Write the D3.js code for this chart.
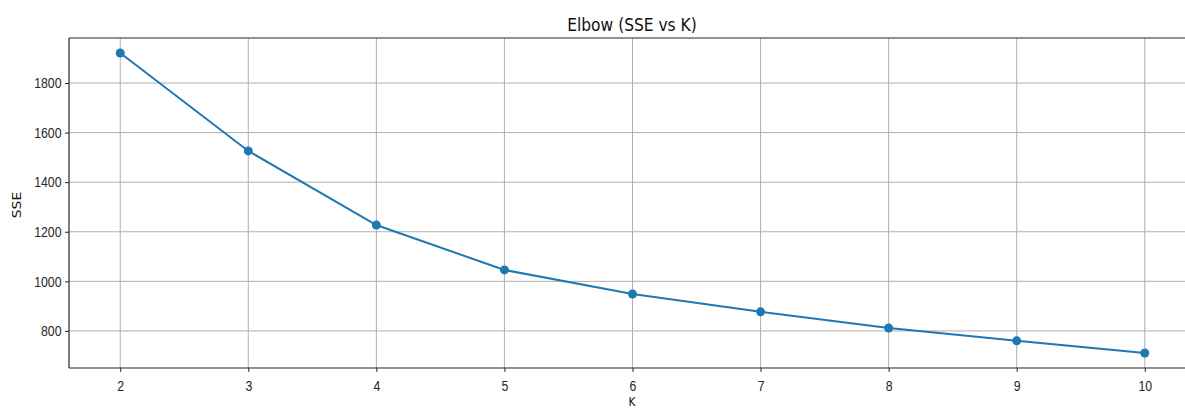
<!DOCTYPE html>
<html>
<head>
<meta charset="utf-8">
<script src="https://cdn.jsdelivr.net/npm/d3@7"></script>
<style>
  body { margin: 0; background: #fff; }
  svg { display: block; font-family: "DejaVu Sans", sans-serif; }
  .grid line { stroke: #b0b0b0; stroke-width: 1; }
  .tick text { font-size: 15px; fill: #262626; }
</style>
</head>
<body>
<svg id="chart" width="1185" height="410"></svg>
<script>
// k values and their SSE
const kValues = [2, 3, 4, 5, 6, 7, 8, 9, 10];
const sseValues = [1921, 1526, 1227, 1046, 949, 877, 812, 760, 711];
const yTicks = [800, 1000, 1200, 1400, 1600, 1800];

const width = 1185, height = 410;
const margin = { top: 38, right: -11, bottom: 42, left: 69 };
const innerW = width - margin.left - margin.right;
const innerH = height - margin.top - margin.bottom;
const squeeze = 0.82; // the source figure looks narrowed horizontally

const svg = d3.select("#chart");
const g = svg.append("g").attr("transform", `translate(${margin.left},${margin.top})`);

const x = d3.scaleLinear().domain([1.6, 10.4]).range([0, innerW]);
const ySpan = d3.max(sseValues) - d3.min(sseValues);
const y = d3.scaleLinear()
  .domain([d3.min(sseValues) - ySpan * 0.05, d3.max(sseValues) + ySpan * 0.05])
  .range([innerH, 0]);

// grid
g.append("g").attr("class", "grid")
  .selectAll("line").data(kValues).join("line")
  .attr("x1", d => x(d)).attr("x2", d => x(d))
  .attr("y1", 0).attr("y2", innerH);
g.append("g").attr("class", "grid")
  .selectAll("line").data(yTicks).join("line")
  .attr("x1", 0).attr("x2", innerW)
  .attr("y1", d => y(d)).attr("y2", d => y(d));

// axes
const xAxis = g.append("g").attr("transform", `translate(0,${innerH})`)
  .call(d3.axisBottom(x).tickValues(kValues).tickSize(4).tickFormat(d3.format("d")));
const yAxis = g.append("g")
  .call(d3.axisLeft(y).tickValues(yTicks).tickSize(4).tickFormat(d3.format("d")));
[xAxis, yAxis].forEach(a => {
  a.select(".domain").remove();
  a.selectAll(".tick line").attr("stroke", "#262626").attr("stroke-width", 1);
  a.selectAll(".tick text").attr("transform", `scale(${squeeze},1)`);
});
xAxis.selectAll(".tick text").attr("y", 12);
yAxis.selectAll(".tick text").attr("x", -7.5 / squeeze);

// spines (left, top, bottom; right one falls outside the picture)
const spine = (x1, y1, x2, y2) => g.append("line")
  .attr("x1", x1).attr("y1", y1).attr("x2", x2).attr("y2", y2)
  .attr("stroke", "#262626").attr("stroke-width", 1.2);
spine(0, 0, 0, innerH);
spine(0, 0, innerW, 0);
spine(0, innerH, innerW, innerH);

// line + markers
const pts = kValues.map((k, i) => [k, sseValues[i]]);
g.append("path").datum(pts)
  .attr("fill", "none").attr("stroke", "#1f77b4").attr("stroke-width", 2)
  .attr("d", d3.line().x(d => x(d[0])).y(d => y(d[1])));
g.selectAll("circle.pt").data(pts).join("circle")
  .attr("class", "pt")
  .attr("cx", d => x(d[0])).attr("cy", d => y(d[1])).attr("r", 4.5)
  .attr("fill", "#1f77b4");

// titles
svg.append("text").attr("transform", `translate(632,31) scale(0.86,1)`).attr("text-anchor", "middle")
  .attr("font-size", 18).attr("fill", "#111").text("Elbow (SSE vs K)");
svg.append("text").attr("transform", `translate(632,406) scale(${squeeze},1)`).attr("text-anchor", "middle")
  .attr("font-size", 13).attr("fill", "#111").text("K");
svg.append("text").attr("transform", `translate(21,205) rotate(-90) scale(1,${squeeze})`).attr("text-anchor", "middle")
  .attr("font-size", 14).attr("fill", "#111").text("SSE");
</script>
</body>
</html>
